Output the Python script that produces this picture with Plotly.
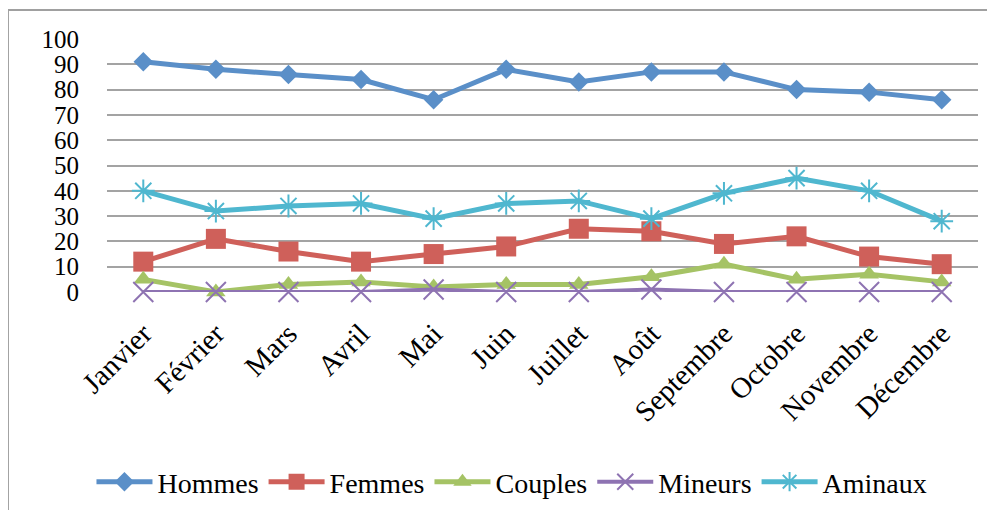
import plotly.graph_objects as go

months = ["Janvier", "Février", "Mars", "Avril", "Mai", "Juin", "Juillet",
          "Août", "Septembre", "Octobre", "Novembre", "Décembre"]
hommes = [91, 88, 86, 84, 76, 88, 83, 87, 87, 80, 79, 76]
femmes = [12, 21, 16, 12, 15, 18, 25, 24, 19, 22, 14, 11]
couples = [5, 0, 3, 4, 2, 3, 3, 6, 11, 5, 7, 4]
mineurs = [0, 0, 0, 0, 1, 0, 0, 1, 0, 0, 0, 0]
aminaux = [40, 32, 34, 35, 29, 35, 36, 29, 39, 45, 40, 28]
y_ticks = [0, 10, 20, 30, 40, 50, 60, 70, 80, 90, 100]

FONT = "'Liberation Serif', 'Times New Roman', serif"

series = [
    ("Hommes", hommes, "#5A8FC8", "diamond", 15, 0),
    ("Femmes", femmes, "#CF605A", "square", 20, 0),
    ("Couples", couples, "#A5C365", "triangle-up", 17, 0),
    ("Mineurs", mineurs, "#8E73B2", "x-thin", 20, 2),
    ("Aminaux", aminaux, "#4FB7CF", "asterisk", 19, 2),
]

fig = go.Figure()
for name, vals, color, sym, size, lw in series:
    marker = dict(symbol=sym, size=size, color=color)
    if lw:
        marker["line"] = dict(color=color, width=lw)
    else:
        marker["line"] = dict(width=0)
    fig.add_trace(go.Scatter(
        x=months, y=vals, name=name, mode="lines+markers",
        line=dict(color=color, width=5 if name != "Mineurs" else 4),
        marker=marker, cliponaxis=False,
    ))

fig.update_layout(
    width=995, height=510,
    margin=dict(l=99, r=25, t=31, b=226, autoexpand=False),
    paper_bgcolor="white", plot_bgcolor="white",
    font=dict(family=FONT, size=26, color="black"),
    showlegend=True,
    legend=dict(orientation="h", xref="container", yref="container",
                x=0.5065, xanchor="center", y=0.0706, yanchor="middle",
                font=dict(family=FONT, size=28, color="black"), itemwidth=56,
                tracegroupgap=0, bgcolor="rgba(0,0,0,0)"),
    xaxis=dict(type="category", range=[-0.5, 11.5], showgrid=False,
               tickangle=-45, ticks="", showline=False, zeroline=False,
               automargin=False,
               tickfont=dict(family=FONT, size=29, color="black"),
               ticklabelstandoff=18),
    yaxis=dict(range=[0, 100], tickvals=y_ticks, showgrid=True,
               gridcolor="#A3A3A3", gridwidth=2, zeroline=False,
               showline=False, ticks="", automargin=False,
               tickfont=dict(family=FONT, size=25, color="black"),
               ticklabelstandoff=27),
    shapes=[dict(type="rect", xref="paper", yref="paper",
                 x0=-0.1137, x1=1.05, y0=-0.95, y1=1.1146,
                 line=dict(color="#A0A0A0", width=2), layer="below")],
)

fig.write_html("out.html")
